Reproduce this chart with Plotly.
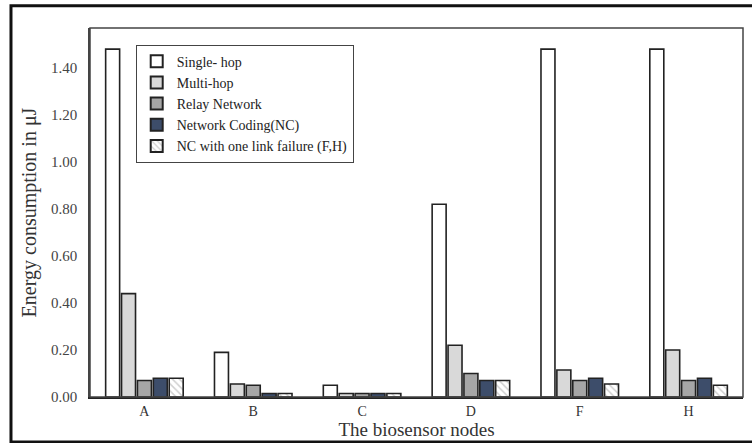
import plotly.graph_objects as go

nodes = ["A", "B", "C", "D", "F", "H"]
single_hop = [1.48, 0.19, 0.05, 0.82, 1.48, 1.48]
multi_hop = [0.44, 0.055, 0.015, 0.22, 0.115, 0.20]
relay_net = [0.07, 0.05, 0.015, 0.10, 0.07, 0.07]
net_coding = [0.08, 0.015, 0.015, 0.07, 0.08, 0.08]
nc_failure = [0.08, 0.015, 0.015, 0.07, 0.055, 0.05]
y_ticks = [0.0, 0.2, 0.4, 0.6, 0.8, 1.0, 1.2, 1.4]
y_tick_text = ["0.00", "0.20", "0.40", "0.60", "0.80", "1.00", "1.20", "1.40"]

serif = "Liberation Serif"
line = dict(color="#222222", width=1.6)

fig = go.Figure()
fig.add_bar(x=nodes, y=single_hop, name="Single- hop",
            marker=dict(color="white", line=line))
fig.add_bar(x=nodes, y=multi_hop, name="Multi-hop",
            marker=dict(color="#d9d9d9", line=line))
fig.add_bar(x=nodes, y=relay_net, name="Relay Network",
            marker=dict(color="#a6a6a6", line=line))
fig.add_bar(x=nodes, y=net_coding, name="Network Coding(NC)",
            marker=dict(color="#3d4d6a", line=line))
fig.add_bar(x=nodes, y=nc_failure, name="NC with one link failure (F,H)",
            marker=dict(color="white", line=line,
                        pattern=dict(shape="\\", fgcolor="#a0a0a0", bgcolor="white",
                                     size=5, solidity=0.3)))

fig.update_layout(
    width=752, height=443,
    margin=dict(l=90, r=9, t=28, b=46),
    paper_bgcolor="white", plot_bgcolor="white",
    barmode="group", bargap=0.27, bargroupgap=0.12,
    font=dict(family=serif, size=15, color="#333333"),
    showlegend=True,
    legend=dict(x=0.07, y=0.955, xanchor="left", yanchor="top",
                bgcolor="white", bordercolor="#444444", borderwidth=1,
                font=dict(family=serif, size=14, color="#222222"),
                itemwidth=30, tracegroupgap=0, traceorder="normal",
                itemsizing="constant"),
    xaxis=dict(showline=True, linecolor="#222222", linewidth=2, mirror=False,
               ticks="", showgrid=False,
               title=dict(text="The biosensor nodes", standoff=0,
                          font=dict(family=serif, size=19, color="#333333")),
               tickfont=dict(family=serif, size=14, color="#333333")),
    yaxis=dict(range=[0, 1.57], tickvals=y_ticks, ticktext=y_tick_text,
               showline=True, linecolor="#444444", linewidth=1.5, mirror=False,
               ticks="", showgrid=False, zeroline=False, ticklabelstandoff=8,
               title=dict(text="Energy consumption in μJ", standoff=9,
                          font=dict(family=serif, size=20, color="#333333")),
               tickfont=dict(family=serif, size=15, color="#444444")),
    shapes=[
        dict(type="rect", xref="paper", yref="paper", x0=0, x1=1, y0=0, y1=1,
             line=dict(color="#444444", width=1.5), layer="above"),
        dict(type="rect", xref="paper", yref="paper",
             x0=-0.121, x1=1.04, y0=-0.122, y1=1.06,
             line=dict(color="#111111", width=3), layer="above"),
    ],
)

fig.write_html("out.html", config={"displayModeBar": False},
               post_script="document.body.style.margin='0px';")
